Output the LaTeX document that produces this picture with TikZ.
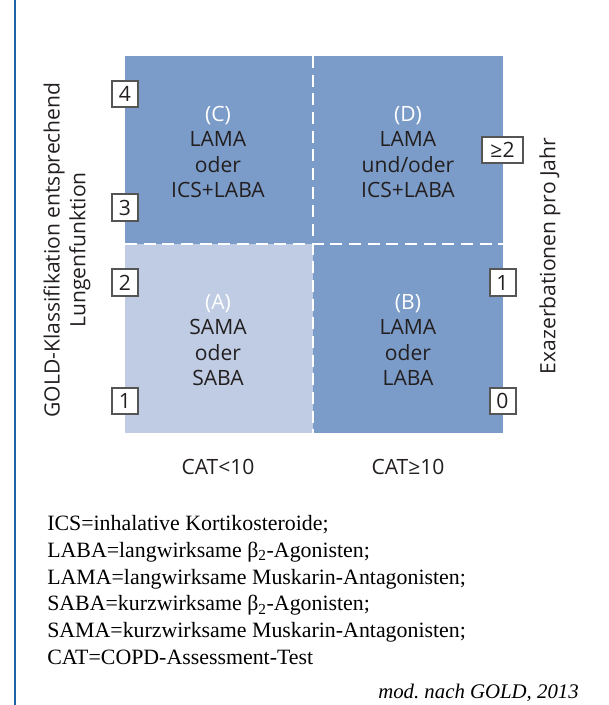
\documentclass[tikz,border=0pt]{standalone}
\usepackage{fontspec}
\setmainfont{Liberation Serif}
\setsansfont{Open Sans}
\usetikzlibrary{positioning}

\definecolor{quaddark}{HTML}{7B9CC8}
\definecolor{quadlight}{HTML}{BFCCE3}
\definecolor{barblue}{HTML}{1F62A6}
\definecolor{boxgray}{HTML}{555555}
\definecolor{txtdark}{HTML}{231F20}

\tikzset{
  sanstext/.style={font=\sffamily\fontsize{15.8}{19.2}\selectfont, text=txtdark, inner sep=0pt},
  quadtext/.style={sanstext, align=center},
  scorebox/.style={draw=boxgray, line width=1.5pt, fill=white, sanstext,
    minimum width=19.5pt, minimum height=20pt, inner sep=1pt},
  divider/.style={white, line width=1.5pt, dash pattern=on 9pt off 5pt},
}

\begin{document}
\frenchspacing
\begin{tikzpicture}[x=0.75pt, y=-0.75pt]
  \useasboundingbox (0,0) rectangle (608,705);

  % frame line on the left
  \coordinate (barT) at (15,0);
  \coordinate (barB) at (15,705);
  \draw[barblue, line width=1.7pt] (barT) -- (barB);

  % the four fields
  \coordinate (NW) at (125,56);
  \coordinate (SE) at (503,433);
  \coordinate (M) at (313,244);
  \fill[quaddark] (NW) rectangle (SE);
  \fill[quadlight] (NW |- M) rectangle (M |- SE);

  \draw[divider] (M |- NW) -- (M |- SE);
  \draw[divider] (NW |- M) -- (SE |- M);

  \node[quadtext] (fieldC) at (218,152) {{\color{white}(C)}\\LAMA\\oder\\ICS+LABA};
  \node[quadtext] (fieldD) at (408,152) {{\color{white}(D)}\\LAMA\\und/oder\\ICS+LABA};
  \node[quadtext] (fieldA) at (218,340) {{\color{white}(A)}\\SAMA\\oder\\SABA};
  \node[quadtext] (fieldB) at (408,340) {{\color{white}(B)}\\LAMA\\oder\\LABA};

  % scores on the left edge
  \node[scorebox] (gold4) at (125,94) {4};
  \node[scorebox] (gold3) at (125,207.5) {3};
  \node[scorebox] (gold2) at (125,282.5) {2};
  \node[scorebox] (gold1) at (125,401) {1};

  % exacerbations on the right edge
  \node[scorebox, minimum width=30.5pt] (exa2) at (502.5,150) {≥2};
  \node[scorebox] (exa1) at (502.5,282.5) {1};
  \node[scorebox] (exa0) at (502.5,401) {0};

  % axis labels
  \node[quadtext, rotate=90] (goldlabel) at (67,250)
    {GOLD-Klassifikation entsprechend\\Lungenfunktion};
  \node[sanstext, rotate=90] (exalabel) at (550,256) {Exazerbationen pro Jahr};
  \node[sanstext] (catlow) at (218,467) {CAT<10};
  \node[sanstext] (cathigh) at (408,467) {CAT≥10};

  % legend
  \node[anchor=west, align=left, inner sep=0pt,
    font=\fontsize{16.4}{20.1}\selectfont] (legend) at (47,590)
    {ICS=inhalative Kortikosteroide;\\
     LABA=langwirksame β\textsubscript{2}-Agonisten;\\
     LAMA=langwirksame Muskarin-Antagonisten;\\
     SABA=kurzwirksame β\textsubscript{2}-Agonisten;\\
     SAMA=kurzwirksame Muskarin-Antagonisten;\\
     CAT=COPD-Assessment-Test};
  \node[anchor=east, inner sep=0pt, font=\itshape\fontsize{15.6}{18}\selectfont]
    (source) at (579,693) {mod. nach GOLD, 2013};
\end{tikzpicture}
\end{document}
